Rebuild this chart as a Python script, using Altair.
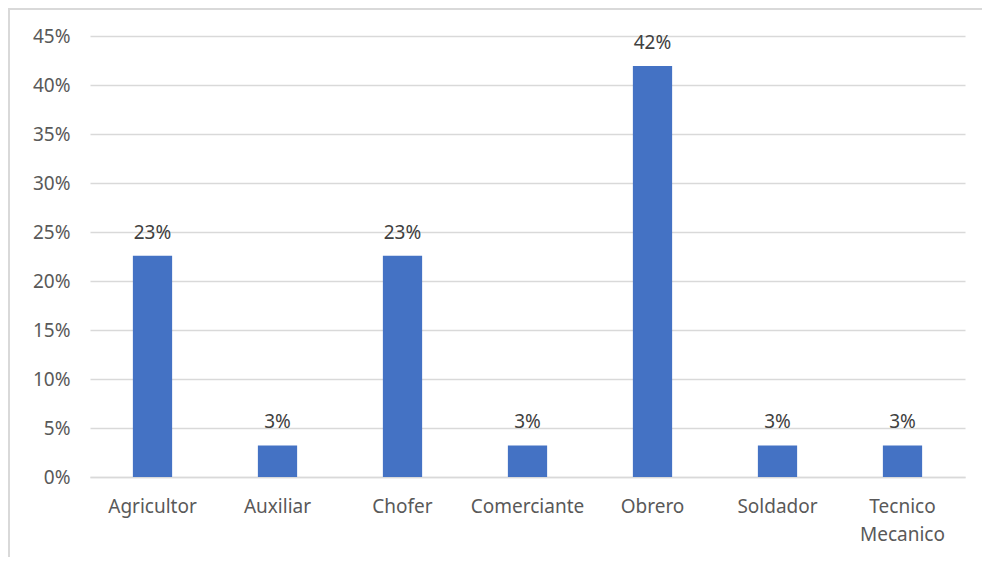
import altair as alt
import pandas as pd

categories = ["Agricultor", "Auxiliar", "Chofer", "Comerciante", "Obrero", "Soldador", "Tecnico Mecanico"]
values = [7/31, 1/31, 7/31, 1/31, 13/31, 1/31, 1/31]

df = pd.DataFrame({"cat": categories, "val": values})

FONT = "Noto Sans"
GRAY = "#595959"
FS = 19

x = alt.X("cat:N", sort=categories,
          scale=alt.Scale(paddingInner=0.686, paddingOuter=0.343),
          axis=alt.Axis(title=None, labelAngle=0, labelFontSize=FS, labelColor=GRAY,
                        labelFont=FONT, labelPadding=20, ticks=False,
                        domainColor="#d9d9d9", domainWidth=1.5,
                        labelExpr="split(datum.label, ' ')", labelLineHeight=28))
y = alt.Y("val:Q", scale=alt.Scale(domain=[0, 0.45], nice=False),
          axis=alt.Axis(title=None, format=".0%", values=[i*0.05 for i in range(10)],
                        labelFontSize=FS, labelColor=GRAY, labelFont=FONT,
                        labelPadding=20, ticks=False, domain=False,
                        gridColor="#d9d9d9", gridWidth=1.5))

bars = alt.Chart(df).mark_bar(color="#4472c4").encode(x=x, y=y)
labels = alt.Chart(df).mark_text(dy=-13, baseline="bottom", fontSize=FS, font=FONT, color="#404040").encode(
    x=alt.X("cat:N", sort=categories), y="val:Q", text=alt.Text("val:Q", format=".0%"))

border = alt.Chart(df).mark_rect(fill=None, stroke="#d9d9d9", strokeWidth=2, clip=False).encode(
    x=alt.value(-81), x2=alt.value(960), y=alt.value(-27), y2=alt.value(600))

chart = alt.layer(border, bars, labels).properties(
    width=875, height=441, padding={"left": 82, "top": 28, "right": 17, "bottom": 80},
    autosize=alt.AutoSizeParams(type="none")
).configure_view(stroke=None)

chart.save("out.html", embed_options={"renderer": "svg", "actions": False})
